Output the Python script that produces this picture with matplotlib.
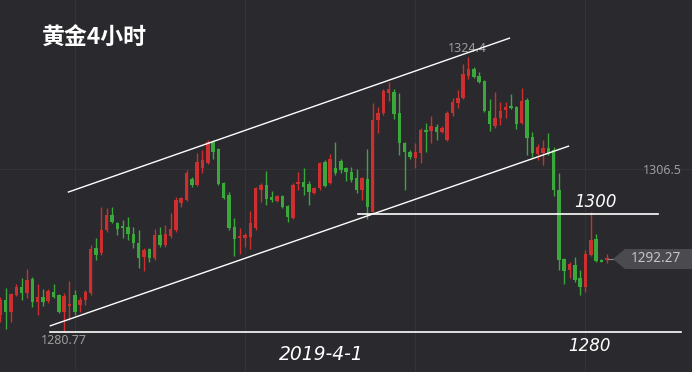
import matplotlib
matplotlib.use("Agg")
import matplotlib.pyplot as plt
from matplotlib.patches import Polygon

# 4h gold candles (open / high / low / close)
opens = [1283.3, 1285.7, 1283.8, 1286.5, 1287.8, 1286.8, 1289.1, 1285.4, 1286.2, 1285.6,
         1287.0, 1286.5, 1283.8, 1284.8, 1286.5, 1284.9, 1285.7, 1286.8, 1294.0, 1293.2,
         1296.9, 1299.2, 1298.0, 1297.3, 1297.3, 1296.2, 1294.8, 1292.6, 1293.8, 1292.4,
         1296.1, 1294.5, 1295.9, 1296.9, 1301.2, 1301.6, 1305.0, 1304.0, 1306.7, 1307.5,
         1310.9, 1309.8, 1304.3, 1302.4, 1297.3, 1295.6, 1295.6, 1295.7, 1297.2, 1303.2,
         1304.0, 1302.1, 1301.5, 1302.3, 1300.7, 1298.8, 1304.2, 1304.5, 1304.2, 1302.8,
         1303.5, 1307.7, 1304.3, 1306.7, 1307.8, 1306.7, 1306.1, 1305.1, 1303.2, 1305.0,
         1299.7, 1314.4, 1315.5, 1318.7, 1318.8, 1315.5, 1310.7, 1309.3, 1308.3, 1309.1,
         1312.8, 1312.6, 1313.3, 1312.5, 1311.2, 1315.5, 1317.1, 1317.9, 1321.4, 1322.5,
         1321.4, 1320.6, 1315.8, 1313.4, 1314.7, 1316.0, 1316.6, 1316.4, 1313.9, 1317.6,
         1311.7, 1309.0, 1309.1, 1309.9, 1309.6, 1303.2, 1292.2, 1290.5, 1291.3, 1289.2,
         1287.8, 1292.9, 1295.4, 1292.1, 1292.1]
closes = [1285.7, 1283.8, 1286.7, 1287.8, 1286.8, 1288.9, 1285.4, 1286.2, 1285.4, 1287.1,
          1286.2, 1283.8, 1286.4, 1285.1, 1283.8, 1285.7, 1287.0, 1293.8, 1292.9, 1296.9,
          1299.2, 1298.1, 1297.0, 1297.2, 1296.2, 1294.8, 1292.4, 1293.7, 1292.4, 1296.1,
          1294.5, 1296.2, 1297.0, 1301.6, 1302.0, 1305.9, 1304.0, 1307.7, 1308.0, 1310.9,
          1309.3, 1304.2, 1302.0, 1297.2, 1295.4, 1295.9, 1296.1, 1298.0, 1303.5, 1304.0,
          1301.8, 1301.6, 1302.3, 1300.5, 1298.9, 1304.0, 1304.5, 1303.7, 1302.9, 1303.5,
          1307.5, 1303.9, 1308.2, 1305.9, 1306.4, 1306.1, 1304.8, 1303.2, 1305.1, 1300.5,
          1314.4, 1315.5, 1319.0, 1319.3, 1315.3, 1310.7, 1309.3, 1308.5, 1309.3, 1312.8,
          1312.5, 1313.4, 1312.5, 1313.1, 1315.5, 1317.2, 1317.9, 1321.7, 1322.5, 1321.2,
          1320.4, 1315.8, 1313.7, 1314.7, 1315.8, 1316.4, 1316.3, 1313.7, 1317.4, 1311.5,
          1309.1, 1310.1, 1309.9, 1309.1, 1303.2, 1292.1, 1290.3, 1291.4, 1288.9, 1287.8,
          1293.0, 1295.3, 1291.9, 1291.8, 1292.27]
highs = [1286.2, 1287.6, 1286.8, 1288.3, 1289.2, 1290.6, 1289.4, 1288.3, 1287.5, 1287.5,
         1288.3, 1286.7, 1286.8, 1288.7, 1287.3, 1286.2, 1287.3, 1294.5, 1295.6, 1300.5,
         1300.4, 1300.5, 1298.1, 1298.5, 1298.9, 1297.3, 1296.9, 1294.0, 1294.0, 1297.0,
         1297.3, 1297.7, 1299.6, 1302.1, 1302.1, 1306.4, 1305.3, 1309.1, 1309.6, 1311.2,
         1311.2, 1309.9, 1304.5, 1302.9, 1298.8, 1297.2, 1296.4, 1299.9, 1303.7, 1304.3,
         1306.3, 1303.1, 1302.4, 1302.4, 1300.8, 1304.3, 1306.1, 1306.7, 1304.7, 1303.7,
         1307.7, 1308.0, 1309.0, 1310.9, 1308.2, 1306.9, 1306.9, 1306.6, 1305.3, 1309.8,
         1317.1, 1316.4, 1319.3, 1320.4, 1319.3, 1318.7, 1310.9, 1309.6, 1310.7, 1313.1,
         1313.9, 1315.0, 1313.7, 1313.4, 1315.8, 1317.9, 1319.2, 1323.3, 1324.4, 1322.8,
         1322.0, 1320.7, 1317.7, 1318.8, 1317.2, 1317.2, 1318.5, 1316.6, 1319.5, 1317.9,
         1312.5, 1310.6, 1311.2, 1312.3, 1310.1, 1305.9, 1292.4, 1291.8, 1292.6, 1290.5,
         1293.7, 1299.7, 1296.2, 1292.2, 1293.0]
lows = [1282.2, 1281.1, 1282.2, 1286.4, 1285.7, 1286.0, 1284.6, 1283.3, 1284.8, 1285.2,
        1286.0, 1283.6, 1280.77, 1282.5, 1283.3, 1283.8, 1284.9, 1286.5, 1292.1, 1292.9,
        1296.5, 1298.0, 1296.1, 1295.6, 1295.3, 1294.0, 1290.8, 1290.3, 1291.8, 1292.1,
        1294.2, 1294.2, 1295.6, 1296.5, 1300.5, 1301.5, 1303.7, 1303.9, 1305.9, 1307.4,
        1308.2, 1304.0, 1301.8, 1296.9, 1292.7, 1293.0, 1294.2, 1293.8, 1296.9, 1301.3,
        1300.8, 1301.3, 1301.3, 1300.4, 1298.1, 1298.6, 1303.2, 1302.4, 1300.8, 1302.6,
        1303.2, 1303.7, 1304.2, 1305.6, 1305.9, 1304.7, 1304.5, 1302.8, 1301.6, 1298.6,
        1299.4, 1312.3, 1315.2, 1317.4, 1314.5, 1308.8, 1303.2, 1308.2, 1306.7, 1307.5,
        1309.3, 1310.7, 1311.2, 1312.3, 1311.0, 1315.0, 1316.3, 1317.7, 1320.9, 1321.1,
        1320.3, 1315.7, 1312.6, 1313.1, 1313.6, 1314.7, 1316.1, 1312.9, 1313.7, 1308.8,
        1308.5, 1308.0, 1307.2, 1308.8, 1302.3, 1290.5, 1288.3, 1289.2, 1288.6, 1286.5,
        1287.0, 1292.7, 1291.8, 1291.8, 1291.6]

# hand drawn lines: (start bar, start price, end bar, end price)
upper_channel = (12.8, 1302.9, 95.7, 1327.4)
lower_channel = (9.4, 1281.6, 106.8, 1310.2)
line_1300 = (67.3, 1299.4, 123.7, 1299.4)
line_1280 = (9.4, 1280.6, 128.0, 1280.6)

grid_bars = [14, 46, 78, 110]
grid_price = 1306.5
last_price = 1292.27

bg = "#2a292e"
up_col = "#cc2f2d"
down_col = "#3aa83a"

fig = plt.figure(figsize=(6.92, 3.72), dpi=100, facecolor=bg)
ax = fig.add_axes([0, 0, 1, 1])
ax.set_facecolor(bg)
ax.set_xlim(-0.06, 130.02)
ax.set_ylim(1274.24, 1333.48)
ax.axis("off")

# grid
for g in grid_bars:
    ax.axvline(g, color="#343338", lw=0.8, zorder=0)
ax.axhline(grid_price, color="#343338", lw=0.8, zorder=0)

# candles
for i in range(len(opens)):
    o, c = opens[i], closes[i]
    col = up_col if c > o else down_col
    ax.vlines(i, lows[i], highs[i], color=col, lw=1.0, zorder=2)
    h = max(abs(c - o), 0.25)
    ax.bar(i, h, bottom=min(o, c), width=0.65, color=col, zorder=3, linewidth=0)

# drawn lines
for seg, lw in [(upper_channel, 1.0), (lower_channel, 1.0), (line_1300, 1.2), (line_1280, 1.2)]:
    ax.plot([seg[0], seg[2]], [seg[1], seg[3]], color="white", lw=lw, zorder=4)


def fx(px):
    return px / 692.0


def fy(py):
    return 1 - py / 372.0


# last price label
ax.plot([len(opens) - 0.8, len(opens) + 0.4], [last_price, last_price], color="#8a8a8e", lw=0.8, zorder=4)
pts = [(fx(613), fy(259)), (fx(625), fy(249)), (fx(692), fy(249)), (fx(692), fy(269)), (fx(625), fy(269))]
ax.add_patch(Polygon(pts, closed=True, transform=ax.transAxes, facecolor="#4a4a4f", edgecolor="none", zorder=5))
ax.text(fx(656), fy(259), "%.2f" % last_price, transform=ax.transAxes, ha="center", va="center",
        color="#c4c4c4", fontsize=9.8, family="Noto Sans", zorder=6)

# price labels
gray = "#9c9c9c"
ax.text(fx(467), fy(48), "1324.4", transform=ax.transAxes, ha="center", va="center",
        color=gray, fontsize=9, family="Noto Sans")
ax.text(fx(662), fy(170), "1306.5", transform=ax.transAxes, ha="center", va="center",
        color=gray, fontsize=9, family="Noto Sans")
ax.text(fx(64), fy(340), "1280.77", transform=ax.transAxes, ha="center", va="center",
        color=gray, fontsize=9, family="Noto Sans")

# handwritten notes
ax.text(fx(94), fy(38), "黄金4小时", transform=ax.transAxes, ha="center", va="center",
        color="white", fontsize=16.5, fontweight="bold", family=["Noto Sans CJK SC", "DejaVu Sans"])
ax.text(fx(595), fy(202), "1300", transform=ax.transAxes, ha="center", va="center",
        color="white", fontsize=12, style="italic", family="DejaVu Sans")
ax.text(fx(589), fy(346), "1280", transform=ax.transAxes, ha="center", va="center",
        color="white", fontsize=12, style="italic", family="DejaVu Sans")
ax.text(fx(321), fy(354), "2019-4-1", transform=ax.transAxes, ha="center", va="center",
        color="white", fontsize=13.5, style="italic", family="DejaVu Sans")

fig.savefig("out.png", dpi=100, facecolor=bg)
